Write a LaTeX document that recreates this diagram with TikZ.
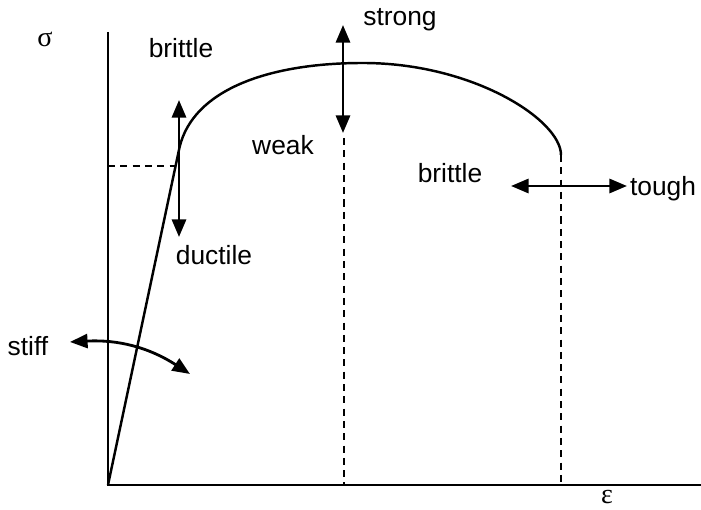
\documentclass[tikz,border=0pt]{standalone}
\usepackage{fontspec}
\setmainfont{Liberation Sans}
\newfontfamily\grk{Liberation Serif}
\usetikzlibrary{arrows.meta}
\tikzset{
	lbl/.style={font=\fontsize{15}{17}\selectfont, inner sep=0pt},
	sym/.style={font=\fontsize{16}{18}\selectfont\grk, inner sep=0pt},
	dbl/.style={line width=1.6pt, {Triangle[length=10pt,width=8pt]}-{Triangle[length=10pt,width=8pt]}},
	guide/.style={line width=1.2pt, dash pattern=on 4pt off 3pt}
}
\begin{document}
\begin{tikzpicture}
			\useasboundingbox (-2.16,-0.5) rectangle (11.86,9.7);
			% axes
			\coordinate (O) at (0,0);
			\coordinate (ytop) at (0,9.06);
			\coordinate (xend) at (11.86,0);
			\draw [line width=1pt] (ytop) -- (O) -- (xend);
			\node[sym] (sig) at (-1.26,8.92) {σ};
			\node[sym] (eps) at (9.98,-0.24) {ε};
			% curve
			\coordinate (yld) at (1.43,6.75);
			\coordinate (peak) at (5.1,8.44);
			\coordinate (brk) at (9.06,6.6);
			\draw [line width=1.4pt] (O) -- (yld) .. controls (1.7,7.9) and (3.2,8.44) .. (peak)
				.. controls (7.3,8.44) and (9.06,7.3) .. (brk);
			% guides
			\coordinate (ys) at (0,6.38);
			\coordinate (yx) at (1.36,6.38);
			\coordinate (ut) at (4.72,6.94);
			\coordinate (ub) at (4.72,0);
			\coordinate (bb) at (9.06,0);
			\draw [guide] (ys) -- (yx);
			\draw [guide] (ut) -- (ub);
			\draw [guide] (brk) -- (bb);
			% arrows
			\coordinate (d1) at (1.42,4.96);
			\coordinate (d2) at (1.42,7.7);
			\draw [dbl] (d1) -- (d2);
			\coordinate (s1) at (4.7,7.04);
			\coordinate (s2) at (4.7,9.2);
			\draw [dbl] (s1) -- (s2);
			\coordinate (t1) at (8.06,5.98);
			\coordinate (t2) at (10.38,5.98);
			\draw [dbl] (t1) -- (t2);
			\coordinate (k1) at (-0.76,2.86);
			\coordinate (k2) at (1.64,2.22);
			\draw [dbl] (k1) to[bend left=18] (k2);
			% labels
			\node[lbl] (brittleA) at (1.46,8.74) {brittle};
			\node[lbl] (ductile) at (2.12,4.6) {ductile};
			\node[lbl] (weak) at (3.5,6.8) {weak};
			\node[lbl] (strong) at (5.84,9.3) {strong};
			\node[lbl] (brittleB) at (6.84,6.24) {brittle};
			\node[lbl] (tough) at (11.1,5.92) {tough};
			\node[lbl] (stiff) at (-1.6,2.78) {stiff};
		\end{tikzpicture}
\end{document}
